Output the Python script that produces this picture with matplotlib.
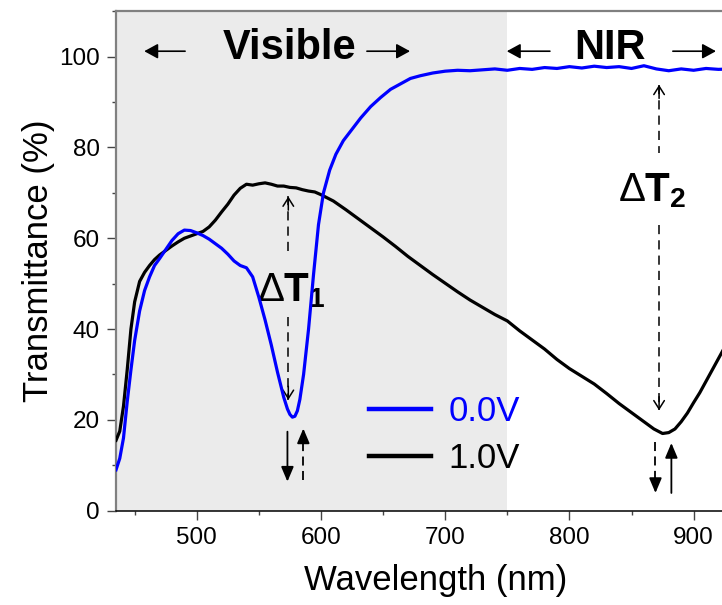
import numpy as np
import matplotlib
matplotlib.use('Agg')
import matplotlib.pyplot as plt
from matplotlib.ticker import MultipleLocator

plt.rcParams['font.family'] = ['Liberation Sans', 'DejaVu Sans']
plt.rcParams['mathtext.fontset'] = 'custom'
plt.rcParams['mathtext.rm'] = 'Liberation Sans'
plt.rcParams['mathtext.bf'] = 'Liberation Sans:bold'

# ---- data ----
wl_0v = [435, 438, 441, 444, 447, 450, 454, 458, 462, 466, 470, 475, 480, 485,
         490, 495, 500, 505, 510, 515, 520, 525, 530, 535, 540, 545, 550, 555,
         560, 565, 570, 573, 575, 577, 579, 581, 583, 586, 590, 594, 598, 602,
         607, 612, 618, 625, 632, 640, 648, 656, 664, 672, 680, 690, 700, 710,
         720, 730, 740, 750, 760, 770, 780, 790, 800, 810, 820, 830, 840, 850,
         860, 870, 880, 890, 900, 910, 920, 930]
T_0v = [9, 11.5, 16, 24, 31, 37.5, 44, 48.5, 51.5, 54, 55.5, 57.5, 59.5, 61,
        61.8, 61.7, 61.2, 60.6, 59.8, 58.8, 57.8, 56.5, 55, 54, 53.5, 51.5, 47,
        42, 36.5, 30.5, 25, 22.4, 21.2, 20.6, 20.8, 22.0, 24.5, 30, 40, 52, 63,
        70, 75, 78.5, 81.5, 84, 86.5, 89, 91, 92.8, 94, 95.2, 95.8, 96.4, 96.8,
        97, 96.9, 97.1, 97.3, 97.0, 97.4, 97.2, 97.6, 97.4, 97.8, 97.5, 97.9,
        97.6, 97.8, 97.4, 98.0, 97.3, 96.9, 97.3, 97.0, 97.4, 97.2, 97.3]

wl_1v = [435, 438, 441, 444, 447, 450, 454, 458, 462, 466, 470, 475, 480, 485,
         490, 495, 500, 505, 510, 515, 520, 525, 530, 535, 540, 545, 550, 555,
         560, 565, 570, 575, 580, 585, 590, 595, 600, 610, 620, 630, 640, 650,
         660, 670, 680, 690, 700, 710, 720, 730, 740, 750, 760, 770, 780, 790,
         800, 810, 820, 830, 840, 850, 860, 868, 875, 880, 885, 890, 895, 900,
         905, 910, 915, 923, 930]
T_1v = [15.5, 17.5, 23, 31, 40, 46, 50.5, 52.5, 54, 55.3, 56.3, 57.3, 58.3,
        59.2, 60, 60.5, 61, 61.5, 62.5, 64, 65.8, 67.5, 69.5, 71.0, 71.9, 71.7,
        72.0, 72.2, 71.9, 71.5, 71.5, 71.2, 71.1, 70.7, 70.4, 70.2, 69.6, 68.2,
        66.3, 64.3, 62.3, 60.3, 58.2, 56, 54, 52, 50.1, 48.2, 46.4, 44.8, 43.2,
        41.8, 39.6, 37.6, 35.6, 33.3, 31.3, 29.6, 27.9, 25.8, 23.6, 21.6, 19.6,
        18, 17, 17.2, 18, 19.6, 21.5, 23.8, 26, 28.5, 31, 35, 38.5]

labels = ['0.0V', '1.0V']
colors = ['#0000ff', '#000000']

fig = plt.figure(figsize=(7.22, 6.05), dpi=100)
ax = fig.add_axes([0.1607, 0.1559, 0.886, 0.8255])

ax.axvspan(435, 750, color='#ebebeb', lw=0, zorder=0)

l0, = ax.plot(wl_0v, T_0v, color=colors[0], lw=2.3, zorder=4, label=labels[0])
l1, = ax.plot(wl_1v, T_1v, color=colors[1], lw=2.3, zorder=3, label=labels[1])

ax.set_xlim(435, 950)
ax.set_ylim(0, 110)
ax.xaxis.set_major_locator(MultipleLocator(100))
ax.xaxis.set_minor_locator(MultipleLocator(50))
ax.yaxis.set_major_locator(MultipleLocator(20))
ax.yaxis.set_minor_locator(MultipleLocator(10))
ax.tick_params(which='major', direction='out', length=6.5, width=1.0,
               labelsize=17.5, pad=5, color='#444444')
ax.tick_params(which='minor', direction='out', length=3, width=1.0, color='#444444')

ax.spines['right'].set_visible(False)
ax.spines['left'].set_color('#808080')
ax.spines['left'].set_linewidth(1.6)
ax.spines['top'].set_color('#808080')
ax.spines['top'].set_linewidth(1.6)
ax.spines['bottom'].set_linewidth(1.1)

ax.set_xlabel('Wavelength (nm)', fontsize=25, labelpad=11)
ax.set_ylabel('Transmittance (%)', fontsize=25, labelpad=3)

# region labels
ax.text(574.5, 102, 'Visible', fontsize=30, fontweight='bold', ha='center', va='center')
ax.text(832.6, 102, 'NIR', fontsize=30, fontweight='bold', ha='center', va='center')
head = dict(arrowstyle='-|>,head_length=0.55,head_width=0.3', color='k',
            lw=1.2, shrinkA=0, shrinkB=0, mutation_scale=15)
for x_from, x_to in [(490.6, 457.7), (637.0, 671.7), (784.3, 749.6), (883.3, 918.0)]:
    ax.annotate('', xy=(x_to, 101.2), xytext=(x_from, 101.2), arrowprops=head)

# delta T labels
ax.text(576, 48.5, r'$\Delta\mathbf{T}_{\mathbf{1}}$', fontsize=29,
        ha='center', va='center', zorder=2)
ax.text(866.5, 70.5, r'$\Delta\mathbf{T}_{\mathbf{2}}$', fontsize=29,
        ha='center', va='center', zorder=2)


def dashed_double(x, ytop, ytext_top, ytext_bot, ybot):
    ax.plot([x, x], [ytop, ytext_top], color='k', lw=1.1, ls=(0, (6, 4)), zorder=2)
    ax.plot([x, x], [ytext_bot, ybot], color='k', lw=1.1, ls=(0, (6, 4)), zorder=2)
    ax.annotate('', xy=(x, ytop), xytext=(x, ytop - 3),
                arrowprops=dict(arrowstyle='->,head_length=0.6,head_width=0.38',
                                color='k', lw=1.1, shrinkA=0, shrinkB=0))
    ax.annotate('', xy=(x, ybot), xytext=(x, ybot + 3),
                arrowprops=dict(arrowstyle='->,head_length=0.6,head_width=0.38',
                                color='k', lw=1.1, shrinkA=0, shrinkB=0))


def short_arrow(x, ystart, yend, dashed):
    if dashed:
        hd = yend - 3.2 if yend > ystart else yend + 3.2
        ax.plot([x, x], [ystart, hd], color='k', lw=1.3, ls=(0, (5, 3)), zorder=2)
        ax.annotate('', xy=(x, yend), xytext=(x, hd),
                    arrowprops=dict(arrowstyle='-|>,head_length=0.9,head_width=0.38',
                                    color='k', lw=1.3, shrinkA=0, shrinkB=0))
    else:
        ax.annotate('', xy=(x, yend), xytext=(x, ystart),
                    arrowprops=dict(arrowstyle='-|>,head_length=0.9,head_width=0.38',
                                    color='k', lw=1.3, shrinkA=0, shrinkB=0))


dashed_double(573.7, 69.2, 55.8, 42.6, 24.4)
dashed_double(872.2, 93.8, 78.8, 62.9, 22.1)
short_arrow(573.0, 17.4, 6.4, False)
short_arrow(585.8, 6.8, 18.1, True)
short_arrow(869.3, 15.2, 3.9, True)
short_arrow(882.1, 3.9, 14.9, False)

leg = ax.legend(handles=[l0, l1], loc='center left', bbox_to_anchor=(0.395, 0.152),
                frameon=False, fontsize=25, handlelength=1.8, handletextpad=0.5,
                labelspacing=0.4, borderpad=0, borderaxespad=0, labelcolor='linecolor')
for h in leg.get_lines():
    h.set_linewidth(3.2)

fig.savefig('out.png', dpi=100)
